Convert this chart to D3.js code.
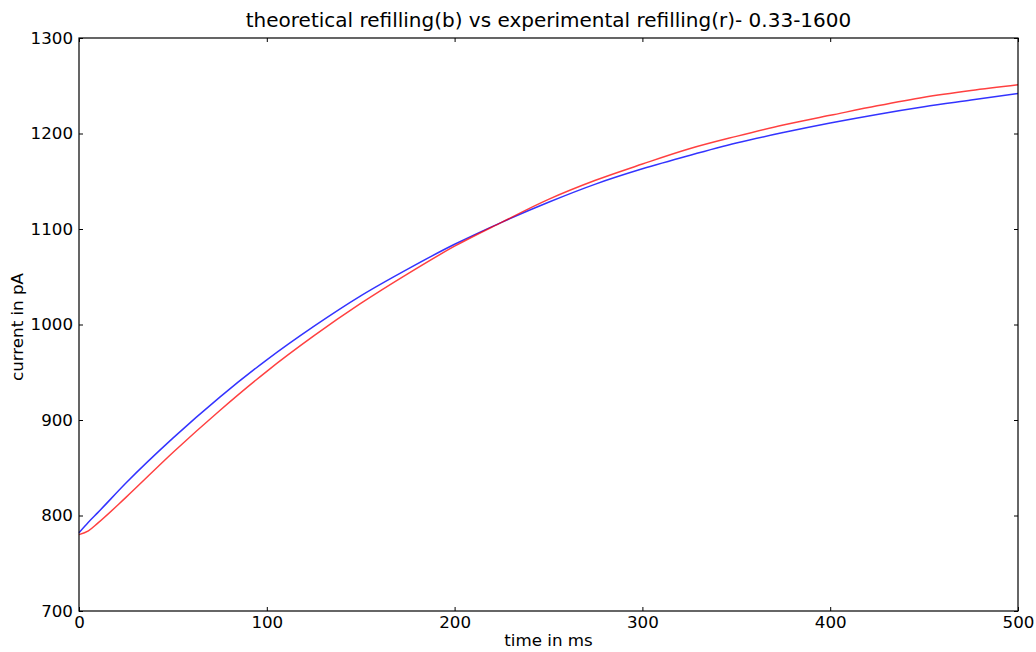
<!DOCTYPE html>
<html>
<head>
<meta charset="utf-8">
<script src="https://cdn.jsdelivr.net/npm/d3@7"></script>
<style>
  body { margin: 0; background: #fff; }
  text { font-family: "DejaVu Sans", sans-serif; fill: #000; }
</style>
</head>
<body>
<div id="container"></div>
<script>
let w = 1036;
let h = 652;

// values (time in ms, current in pA)
let timeMs = [0, 5, 10, 25, 50, 75, 100, 125, 150, 175, 200, 225, 250, 275, 300, 325, 350, 375, 400, 425, 450, 475, 500];
let theoretical = [782, 793, 803, 834, 881, 924, 963, 998, 1030, 1058, 1084, 1107, 1128, 1147, 1163, 1177, 1190, 1201, 1211, 1220, 1228, 1235, 1242];
let experimental = [780, 784, 792, 819, 866, 910, 951, 988, 1022, 1053, 1082, 1107, 1131, 1151, 1168, 1184, 1197, 1209, 1219, 1229, 1238, 1245, 1251];

let xTicks = [0, 100, 200, 300, 400, 500];
let yTicks = [700, 800, 900, 1000, 1100, 1200, 1300];

let plotLeft = 79, plotRight = 1018, plotTop = 38, plotBottom = 611;

let viz = d3.select("#container")
  .append("svg")
    .attr("width", w)
    .attr("height", h)
    .style("background-color", "white");

let xScale = d3.scaleLinear().domain([0, 500]).range([plotLeft, plotRight]);
let yScale = d3.scaleLinear().domain([700, 1300]).range([plotBottom, plotTop]);

// lines
function makeLine(values) {
  return d3.line()
    .x(function(d, i) { return xScale(timeMs[i]); })
    .y(function(d) { return yScale(d); })
    .curve(d3.curveMonotoneX)(values);
}

viz.append("path")
  .attr("d", makeLine(theoretical))
  .attr("fill", "none")
  .attr("stroke", "#0000ff")
  .attr("stroke-opacity", 0.8)
  .attr("stroke-width", 1.5);

viz.append("path")
  .attr("d", makeLine(experimental))
  .attr("fill", "none")
  .attr("stroke", "#ff0000")
  .attr("stroke-opacity", 0.75)
  .attr("stroke-width", 1.5);

// axes: ticks pointing inwards on all four sides
let tickLen = 4;
let fmt = d3.format("d");
viz.append("g")
  .attr("transform", "translate(0," + plotBottom + ")")
  .call(d3.axisBottom(xScale).tickValues(xTicks).tickFormat(fmt).tickSizeInner(-tickLen).tickSizeOuter(0).tickPadding(5))
  .call(g => g.select(".domain").remove())
  .selectAll("text").style("font-size", "16.7px");

viz.append("g")
  .attr("transform", "translate(0," + plotTop + ")")
  .call(d3.axisTop(xScale).tickValues(xTicks).tickSizeInner(-tickLen).tickSizeOuter(0).tickFormat(""))
  .call(g => g.select(".domain").remove());

viz.append("g")
  .attr("transform", "translate(" + plotLeft + ",0)")
  .call(d3.axisLeft(yScale).tickValues(yTicks).tickFormat(fmt).tickSizeInner(-tickLen).tickSizeOuter(0).tickPadding(6))
  .call(g => g.select(".domain").remove())
  .selectAll("text").style("font-size", "16.7px");

viz.append("g")
  .attr("transform", "translate(" + plotRight + ",0)")
  .call(d3.axisRight(yScale).tickValues(yTicks).tickSizeInner(-tickLen).tickSizeOuter(0).tickFormat(""))
  .call(g => g.select(".domain").remove());

viz.selectAll(".tick line").attr("stroke", "#000");

// frame
viz.append("rect")
  .attr("x", plotLeft)
  .attr("y", plotTop)
  .attr("width", plotRight - plotLeft)
  .attr("height", plotBottom - plotTop)
  .attr("fill", "none")
  .attr("stroke", "#000")
  .attr("stroke-width", 1.2);

// title and labels
viz.append("text")
  .attr("x", (plotLeft + plotRight) / 2)
  .attr("y", 27)
  .attr("text-anchor", "middle")
  .style("font-size", "20px")
  .text("theoretical refilling(b) vs experimental refilling(r)- 0.33-1600");

viz.append("text")
  .attr("x", (plotLeft + plotRight) / 2)
  .attr("y", 646)
  .attr("text-anchor", "middle")
  .style("font-size", "16.7px")
  .text("time in ms");

viz.append("text")
  .attr("transform", "translate(23,327) rotate(-90)")
  .attr("text-anchor", "middle")
  .style("font-size", "16.7px")
  .text("current in pA");
</script>
</body>
</html>
